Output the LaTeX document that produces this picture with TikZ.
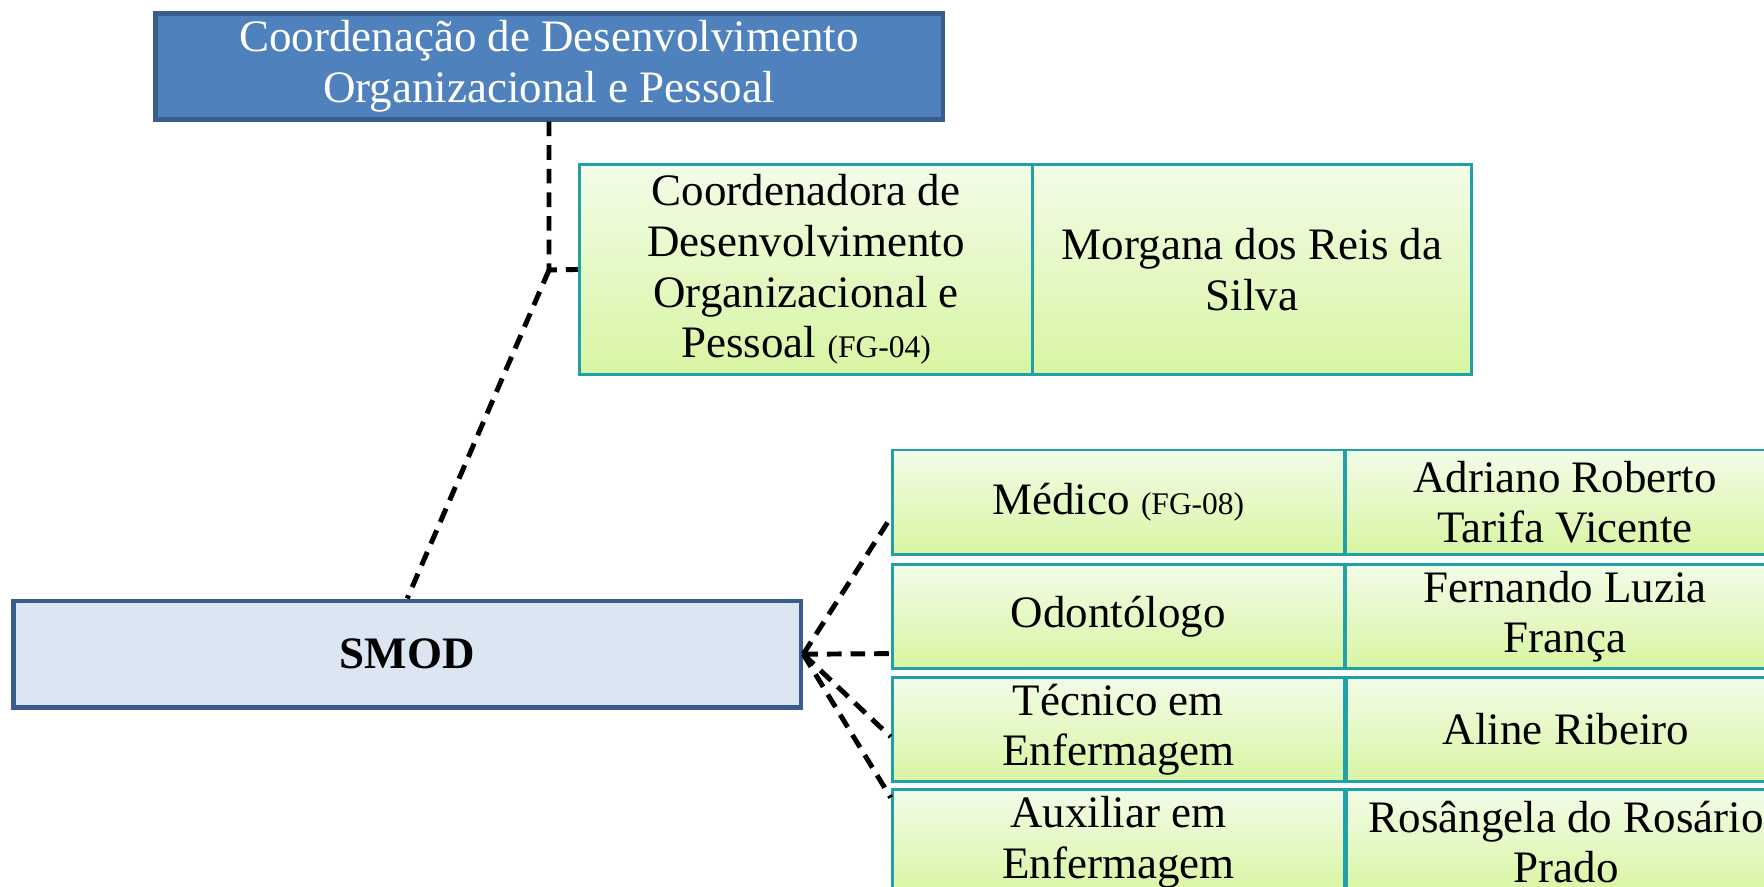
\documentclass[tikz,border=0pt]{standalone}
\usepackage{fontspec}
\setmainfont{Liberation Serif}
\usetikzlibrary{calc}
\definecolor{hdrfill}{HTML}{4F81BD}
\definecolor{hdrline}{HTML}{385D8A}
\definecolor{smodfill}{HTML}{DCE6F2}
\definecolor{cellline}{HTML}{20A0A8}
\definecolor{celltop}{HTML}{F2FCE8}
\definecolor{cellbot}{HTML}{D8F5A2}
\newcommand{\fgsmall}[1]{{\fontsize{14}{16}\selectfont #1}}
\begin{document}
\begin{tikzpicture}[x=0.5pt,y=-0.5pt,
  txt/.style={font=\fontsize{20}{22.5}\selectfont, align=center, inner sep=0pt},
  hdr/.style={txt, draw=hdrline, line width=2pt, fill=hdrfill, text=white,
    minimum width=350pt, minimum height=47pt},
  smodbox/.style={txt, draw=hdrline, line width=2pt, fill=smodfill,
    minimum width=350pt, minimum height=47.5pt, font=\fontsize{20}{22.5}\selectfont\bfseries},
  cell/.style={txt, draw=cellline, line width=1.25pt, top color=celltop, bottom color=cellbot},
  leftcell/.style={cell, minimum width=201pt, minimum height=46.5pt},
  rightcell/.style={cell, minimum width=195pt, minimum height=46.5pt},
  link/.style={draw=black, line width=2.2pt, dash pattern=on 6.5pt off 4pt}
]
\fill[white] (0,0) rectangle (1568,788);
\clip (0,0) rectangle (1568,788);

\node[hdr] (top) at (488,59) {\raisebox{-1.5pt}{\parbox{340pt}{\centering Coordenação de Desenvolvimento\\Organizacional e Pessoal}}};

\node[cell, minimum width=201.5pt, minimum height=93.5pt] (coord) at (716.5,239.5)
  {Coordenadora de\\Desenvolvimento\\Organizacional e\\Pessoal \fgsmall{(FG-04)}};
\node[cell, minimum width=195pt, minimum height=93.5pt] (morgana) at (1113,239.5)
  {Morgana dos Reis da\\Silva};

\node[smodbox] (smod) at (362,581.5) {SMOD};

\node[leftcell] (r1) at (994,446.5) {Médico \fgsmall{(FG-08)}};
\node[rightcell] (n1) at (1391,446.5) {Adriano Roberto\\Tarifa Vicente};
\node[leftcell] (r2) at (994,548) {Odontólogo};
\node[rightcell] (n2) at (1391,548) {Fernando Luzia\\França};
\node[leftcell] (r3) at (994,648.5) {Técnico em\\Enfermagem};
\node[rightcell] (n3) at (1392,648.5) {Aline Ribeiro};
\node[leftcell] (r4) at (994,748.5) {Auxiliar em\\Enfermagem};
\node[rightcell] (n4) at (1392,748.5) {Rosângela do Rosário\\Prado};

\coordinate (j) at (488,240);
\draw[link] (top.south) -- (j) -- (coord.west);
\draw[link] (j) -- (smod.north);

\draw[link] (smod.east) -- ([yshift=-6.75pt]r1.west);
\draw[link] (smod.east) -- ([yshift=-16.5pt]r2.west);
\draw[link] (smod.east) -- ([yshift=-3.25pt]r3.west);
\draw[link] (smod.east) -- ([yshift=19.75pt]r4.west);
\end{tikzpicture}
\end{document}
